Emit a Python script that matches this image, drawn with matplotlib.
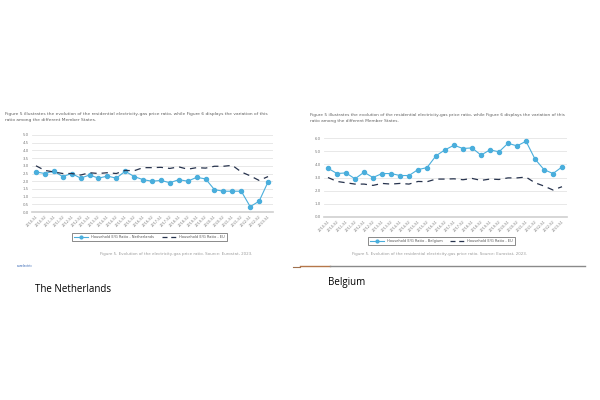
import matplotlib
matplotlib.use("Agg")
import matplotlib.pyplot as plt
from matplotlib.lines import Line2D

periods = [f"{y}-S{s}" for y in range(2010, 2024) for s in (1, 2)][:27]

nl_ratio = [2.6, 2.5, 2.65, 2.3, 2.5, 2.2, 2.4, 2.2, 2.33, 2.2, 2.65, 2.3, 2.1, 2.0, 2.05, 1.9,
            2.1, 2.0, 2.25, 2.15, 1.45, 1.35, 1.35, 1.35, 0.35, 0.7, 1.95]
be_ratio = [3.7, 3.3, 3.35, 2.9, 3.4, 3.0, 3.3, 3.3, 3.15, 3.15, 3.6, 3.75, 4.65, 5.1, 5.45, 5.2,
            5.25, 4.7, 5.1, 4.95, 5.6, 5.4, 5.75, 4.4, 3.6, 3.3, 3.8]
eu_ratio = [3.0, 2.7, 2.6, 2.5, 2.5, 2.4, 2.55, 2.5, 2.55, 2.5, 2.7, 2.68, 2.88, 2.88, 2.9, 2.83,
            2.93, 2.78, 2.88, 2.85, 2.97, 2.97, 3.03, 2.6, 2.35, 2.05, 2.3]

nl_ticks = [0.0, 0.5, 1.0, 1.5, 2.0, 2.5, 3.0, 3.5, 4.0, 4.5, 5.0]
be_ticks = [0.0, 1.0, 2.0, 3.0, 4.0, 5.0, 6.0]

header = ("Figure 5 illustrates the evolution of the residential electricity-gas price ratio, while Figure 6 displays the variation of this\n"
          "ratio among the different Member States.")

W, H = 600, 400
fig = plt.figure(figsize=(6, 4), dpi=100)
fig.patch.set_facecolor("white")

BLUE = "#4aaedc"
NAVY = "#27334d"
GRID = "#e4e4e4"
TXT = "#7a7a7a"


def px_axes(x0, y0, x1, y1):
    return fig.add_axes([x0 / W, 1 - y1 / H, (x1 - x0) / W, (y1 - y0) / H])


def draw_panel(x0, y0, x1, y1, values, ticks, country, legend_box, top):
    ax = px_axes(x0, y0, x1, y1)
    x = list(range(len(periods)))
    ax.plot(x, values, color=BLUE, lw=0.8, marker="o", ms=2.9, mec=BLUE, mfc=BLUE)
    ax.plot(x, eu_ratio, color=NAVY, lw=0.9, ls=(0, (5, 4)))
    ax.set_xlim(-0.5, len(periods) - 0.5)
    ax.set_ylim(0, top)
    ax.set_yticks(ticks)
    ax.set_yticklabels([f"{t:.1f}" for t in ticks], fontsize=2.8, color=TXT)
    ax.set_xticks(x)
    ax.set_xticklabels(periods, rotation=45, ha="right", rotation_mode="anchor",
                       fontsize=2.5, color=TXT)
    ax.tick_params(length=0, pad=2)
    ax.grid(axis="y", color=GRID, lw=0.6)
    ax.set_axisbelow(True)
    for s in ("top", "right", "left"):
        ax.spines[s].set_visible(False)
    ax.spines["bottom"].set_color("#cfcfcf")
    ax.spines["bottom"].set_linewidth(1.2)
    handles = [Line2D([], [], color=BLUE, lw=0.8, marker="o", ms=2),
               Line2D([], [], color=NAVY, lw=0.9, ls=(0, (4, 3)))]
    labels = [f"Household E/G Ratio - {country}", "Household E/G Ratio - EU"]
    lx0, ly0, lx1, ly1 = legend_box
    leg = fig.legend(handles, labels, loc="lower left", ncol=2, mode="expand",
                     bbox_to_anchor=(lx0 / W, 1 - ly1 / H, (lx1 - lx0) / W, (ly1 - ly0) / H),
                     fontsize=2.6, frameon=True, fancybox=False, borderpad=0.5,
                     handlelength=4, borderaxespad=0)
    leg.get_frame().set_edgecolor("#555555")
    leg.get_frame().set_linewidth(0.6)
    for t in leg.get_texts():
        t.set_color("#555555")
    return ax


draw_panel(31.5, 135, 272.5, 212, nl_ratio, nl_ticks, "Netherlands", (72, 232, 227, 241), 5.0)
draw_panel(323.5, 138, 566.5, 217, be_ratio, be_ticks, "Belgium", (368, 237, 515, 245), 6.0)

fig.text(5 / W, 1 - 112 / H, header, fontsize=3.2, color="#606060", va="top", linespacing=1.5)
fig.text(310 / W, 1 - 113 / H, header, fontsize=3.1, color="#606060", va="top", linespacing=1.8)

fig.text(176 / W, 1 - 254 / H, "Figure 5. Evolution of the electricity-gas price ratio. Source: Eurostat, 2023.",
         fontsize=2.9, color="#9a9a9a", ha="center", va="center")
fig.text(440 / W, 1 - 254 / H,
         "Figure 5. Evolution of the residential electricity-gas price ratio. Source: Eurostat, 2023.",
         fontsize=2.9, color="#9a9a9a", ha="center", va="center")

fig.text(17 / W, 1 - 266 / H, "eurelectric", fontsize=2.2, color="#2a5db0", va="center")

fig.add_artist(Line2D([293 / W, 300 / W], [1 - 267 / H, 1 - 267 / H], color="#a0714f", lw=0.8))
fig.add_artist(Line2D([300 / W, 330 / W], [1 - 266 / H, 1 - 266 / H], color="#b5774a", lw=1.0))
fig.add_artist(Line2D([330 / W, 585 / W], [1 - 266 / H, 1 - 266 / H], color="#8a8a8a", lw=1.0))

fig.text(35 / W, 1 - 289 / H, "The Netherlands", fontsize=7.0, color="black", va="center",
         family="Open Sans")
fig.text(328 / W, 1 - 283 / H, "Belgium", fontsize=7.0, color="black", va="center",
         family="Open Sans")

fig.savefig("out.png", dpi=100, facecolor="white")
